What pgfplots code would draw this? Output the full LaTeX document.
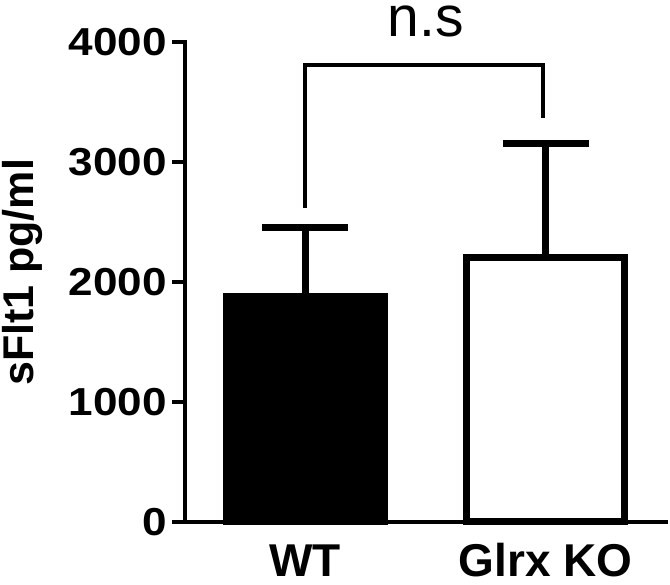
\documentclass[border=0pt]{standalone}
\usepackage{fontspec}
\setmainfont{Liberation Sans}
\newfontfamily\widefont{Liberation Sans}[FakeStretch=1.13]
\usepackage{pgfplots}
\pgfplotsset{compat=1.18}
\begin{document}
\begin{tikzpicture}
\useasboundingbox (-185pt,-63pt) rectangle (485pt,522pt);
\begin{axis}[
  at={(0pt,0pt)}, anchor=south west,
  scale only axis,
  width=481pt, height=480pt,
  xmin=-0.5, xmax=1.5,
  ymin=0, ymax=4000,
  axis x line*=bottom, axis y line*=left,
  axis line style={line width=4pt, line cap=rect},
  ytick={0,1000,2000,3000,4000},
  xtick={0,1}, xticklabels={WT, Glrx KO},
  xtick style={draw=none},
  ytick style={line width=4pt, black},
  tick align=outside,
  major tick length=13pt,
  /pgf/number format/assume math mode=true,
  /pgf/number format/1000 sep={},
  yticklabel style={font=\widefont\bfseries\fontsize{39}{39}\selectfont, inner sep=2pt, xshift=-3pt},
  xticklabel style={font=\bfseries\fontsize{46}{46}\selectfont, anchor=base, yshift=-42pt},
  ylabel={sFlt1 pg/ml},
  ylabel style={font=\bfseries\fontsize{43}{43}\selectfont, at={(rel axis cs:0,0.52)}, anchor=south, inner sep=0pt, yshift=142pt},
  clip=false,
]
\addplot[ybar, bar width=158pt, bar shift=0pt, fill=black, draw=black, line width=7pt,
  error bars/.cd, y dir=plus, y explicit,
  error bar style={line width=7pt, black},
  error mark options={rotate=90, mark size=43pt, line width=7pt, black}]
  coordinates {(0,1880) +- (0,570)};
\addplot[ybar, bar width=158pt, bar shift=0pt, fill=white, draw=black, line width=7pt,
  error bars/.cd, y dir=plus, y explicit,
  error bar style={line width=7pt, black},
  error mark options={rotate=90, mark size=43pt, line width=7pt, black}]
  coordinates {(1,2204) +- (0,954)};
\draw[line width=4pt] (axis cs:0,2617) -- (axis cs:0,3808) -- (axis cs:0.99,3808) -- (axis cs:0.99,3367);
\node[anchor=base, font=\fontsize{57}{57}\selectfont, inner sep=0pt] at (axis cs:0.5,4042) {n.s};
\end{axis}
\end{tikzpicture}
\end{document}
